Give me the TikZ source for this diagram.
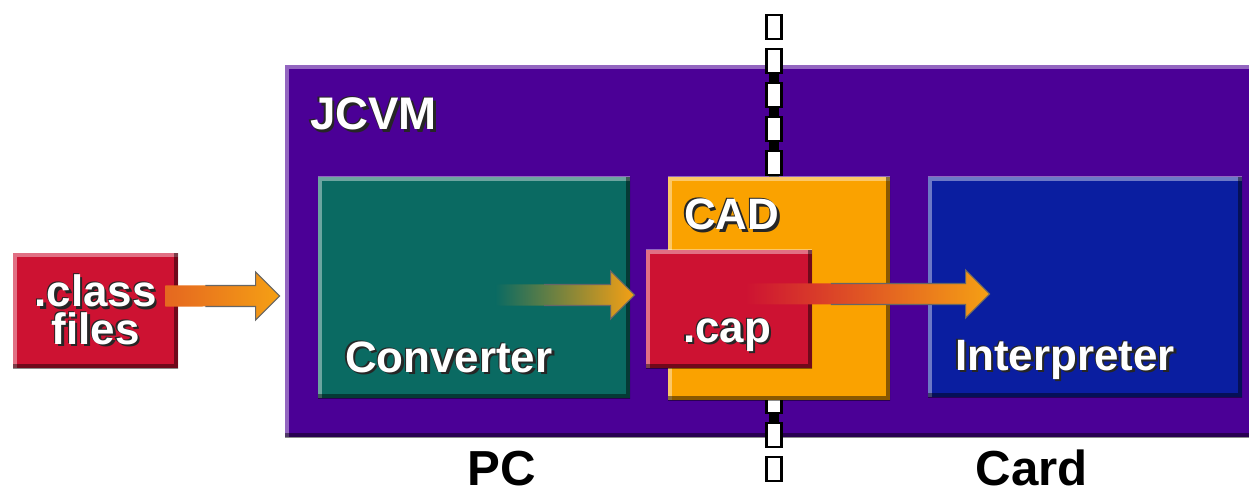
\documentclass[tikz,border=0pt]{standalone}
\usepackage{fontspec}
\setmainfont{Liberation Sans}
\usepackage{xcolor}
\usetikzlibrary{calc}

\definecolor{jcvmpurple}{RGB}{75,0,150}
\definecolor{convteal}{RGB}{10,106,98}
\definecolor{cadorange}{RGB}{250,162,0}
\definecolor{capred}{RGB}{205,18,50}
\definecolor{interpblue}{RGB}{10,30,160}
\definecolor{arrorange}{RGB}{245,160,20}

% white text with a dark shadow
\newcommand\shd[1]{\rlap{\textcolor{black!85}{\kern1.5pt\raisebox{-1.5pt}{#1}}}%
  \rlap{\textcolor{black!85}{\kern-0.6pt\raisebox{0.6pt}{#1}}}#1}

% fat arrow: from, to, start colour
\newcommand\fatarr[3]{%
  \path[left color=#3, middle color=arrorange, right color=arrorange]
    ($(#1)+(0,0.21)$) -- ($(#2)+(-0.48,0.21)$) -- ($(#2)+(-0.48,0.48)$) -- (#2)
    -- ($(#2)+(-0.48,-0.48)$) -- ($(#2)+(-0.48,-0.21)$) -- ($(#1)+(0,-0.21)$) -- cycle;
  \draw[arredge] ($(#1)!0.35!(#2)+(0,0.21)$) -- ($(#2)+(-0.48,0.21)$) -- ($(#2)+(-0.48,0.48)$)
    -- (#2) -- ($(#2)+(-0.48,-0.48)$) -- ($(#2)+(-0.48,-0.21)$) -- ($(#1)!0.35!(#2)+(0,-0.21)$);
}

\begin{document}
\begin{tikzpicture}[
  bevel/.style={path picture={
    \draw[line width=5pt, white, opacity=0.4]
      (path picture bounding box.south west) -- (path picture bounding box.north west)
      -- (path picture bounding box.north east);
    \draw[line width=5pt, black, opacity=0.45]
      (path picture bounding box.north east) -- (path picture bounding box.south east)
      -- (path picture bounding box.south west);}},
  box/.style={rectangle, inner sep=0pt, bevel},
  lbl/.style={text=white, inner sep=0pt, font=\fontsize{25}{21.5}\selectfont\bfseries},
  side/.style={text=black, inner sep=0pt, font=\fontsize{28}{30}\selectfont\bfseries},
  arredge/.style={draw=black!60, line width=0.6pt, line join=miter},
  dashbox/.style={draw=black, line width=1.2pt, fill=white}
]
\useasboundingbox (0,0) rectangle (24.98,9.9);

% JCVM frame
\node[box, fill=jcvmpurple, minimum width=19.5cm, minimum height=7.44cm]
  (jcvm) at (15.45,4.88) {};
\node[lbl, font=\fontsize{26}{28}\selectfont\bfseries, anchor=base west]
  (jcvmlbl) at ([shift={(0.5,-1.3)}]jcvm.north west) {\shd{JCVM}};

% PC / Card divider
\draw[black, line width=0.2cm] (15.48,8.6) -- (15.48,1.16);
\foreach \i in {0,...,13}
  \draw[dashbox] (15.33,9.6-\i*0.68) rectangle (15.63,9.12-\i*0.68);

% Blocks
\node[box, fill=convteal, minimum width=6.24cm, minimum height=4.42cm]
  (conv) at (9.48,4.15) {};
\node[box, fill=cadorange, minimum width=4.44cm, minimum height=4.46cm]
  (cad) at (15.58,4.13) {};
\node[box, fill=capred, minimum width=3.32cm, minimum height=2.36cm]
  (cap) at (14.58,3.72) {};
\node[box, fill=interpblue, minimum width=6.28cm, minimum height=4.4cm]
  (interp) at (21.7,4.16) {};
\node[box, fill=capred, minimum width=3.3cm, minimum height=2.3cm,
      lbl, align=center]
  (cls) at (1.91,3.69) {\shd{.class}\\\shd{files}};

% Labels
\node[lbl, anchor=base west] (convlbl) at ([shift={(0.54,0.52)}]conv.south west) {\shd{Converter}};
\node[lbl, anchor=base west] (cadlbl) at ([shift={(0.32,-1.06)}]cad.north west) {\shd{CAD}};
\node[lbl, anchor=base west] (caplbl) at ([shift={(0.74,0.52)}]cap.south west) {\shd{.cap}};
\node[lbl, anchor=base west] (interplbl) at ([shift={(0.54,0.54)}]interp.south west) {\shd{Interpreter}};

\node[side, anchor=base] (pc) at (10.04,0.2) {PC};
\node[side, anchor=base] (card) at (20.64,0.2) {Card};

% Arrows
\coordinate (a1s) at ([shift={(-0.26,0.29)}]cls.east);
\coordinate (a1e) at ([shift={(-0.1,-0.9)}]jcvm.west);
\coordinate (a2s) at ([shift={(-2.7,-0.15)}]conv.east);
\coordinate (a2e) at ([shift={(-0.22,0.28)}]cap.west);
\coordinate (a3s) at ([shift={(-1.34,0.3)}]cap.east);
\coordinate (a3e) at ([shift={(1.24,-0.14)}]interp.west);
\fatarr{a1s}{a1e}{capred!40!arrorange}
\fatarr{a2s}{a2e}{convteal}
\fatarr{a3s}{a3e}{capred}

\end{tikzpicture}
\end{document}
